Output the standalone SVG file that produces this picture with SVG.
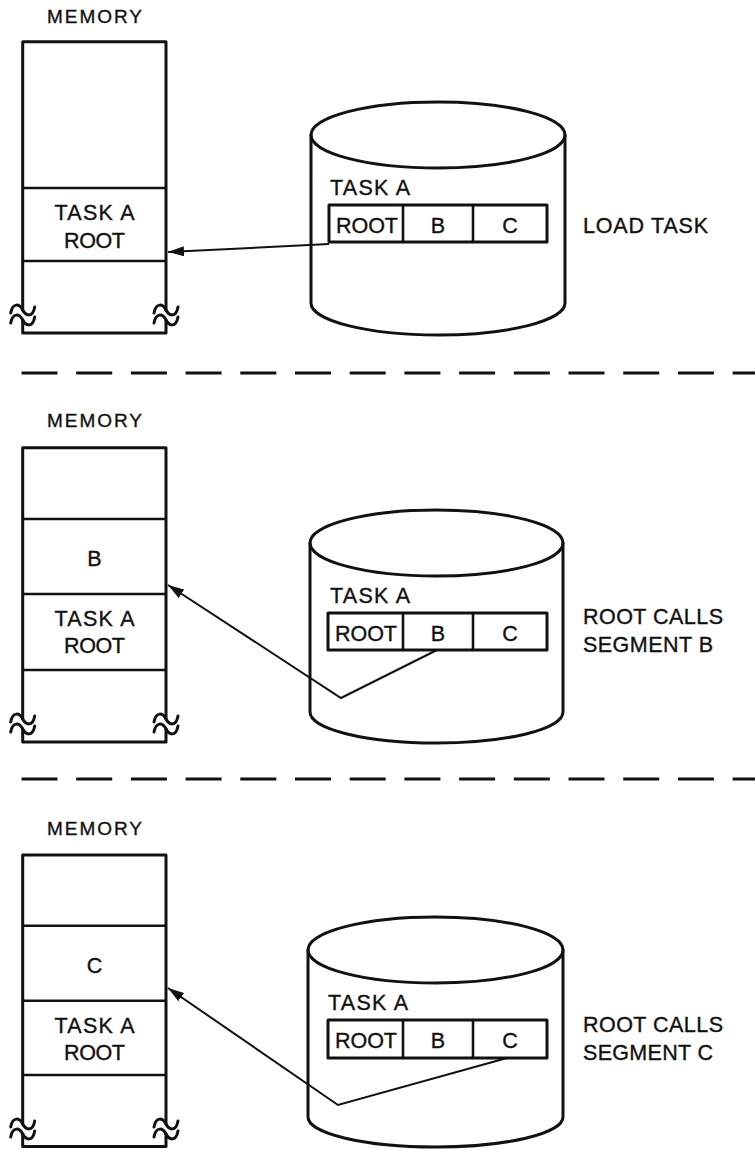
<svg xmlns="http://www.w3.org/2000/svg" xmlns:xlink="http://www.w3.org/1999/xlink" width="755" height="1149" viewBox="0 0 755 1149">
<style>
.ln{fill:none;stroke:#111;stroke-width:3;stroke-linejoin:round;stroke-linecap:round}
.dv{fill:none;stroke:#111;stroke-width:2.6}
.cn{fill:none;stroke:#111;stroke-width:2;stroke-linejoin:miter}
.dash{fill:none;stroke:#111;stroke-width:3.2;stroke-dasharray:36 18.7}
text{font-family:"Liberation Sans",Arial,sans-serif;fill:#111;stroke:#111;stroke-width:0.35}
.t{font-size:21.5px}
.m{font-size:19px}
.c{text-anchor:middle}
</style>
<defs>
<marker id="ah" markerUnits="userSpaceOnUse" markerWidth="17" markerHeight="11" refX="16" refY="5" orient="auto">
<path d="M0,0 L16,5 L0,10 z" fill="#111"/>
</marker>
<g id="sq">
<path class="ln" d="M-12,3 C-10,-8 -3,-6 0,0 C3,6 10,8 12,-3"/>
<path class="ln" d="M-12,13 C-10,2 -3,4 0,10 C3,16 10,18 12,7"/>
</g>
</defs>

<g id="memory1">
<text class="m c" x="94.5" y="23" textLength="95" lengthAdjust="spacing">MEMORY</text>
<path class="ln" d="M22.7,310 V41.7 H166 V310 M22.7,320 V333 H166 V320"/>
<use xlink:href="#sq" x="22.7" y="310"/>
<use xlink:href="#sq" x="166" y="310"/>
<line class="dv" x1="22.7" y1="188" x2="166" y2="188"/>
<line class="dv" x1="22.7" y1="261" x2="166" y2="261"/>
<text class="t c" x="94.5" y="220" textLength="80" lengthAdjust="spacing">TASK A</text>
<text class="t c" x="94.5" y="248" textLength="61" lengthAdjust="spacing">ROOT</text>
</g>

<g id="disk1">
<ellipse class="ln" cx="438" cy="135" rx="127" ry="33"/>
<path class="ln" d="M311,135 V303 A127,32 0 0 0 565,303 V135"/>
<text class="t" x="330" y="195" textLength="80" lengthAdjust="spacing">TASK A</text>
<rect class="ln" x="329" y="205" width="218" height="37"/>
<line class="dv" x1="403" y1="205" x2="403" y2="242"/>
<line class="dv" x1="473" y1="205" x2="473" y2="242"/>
<text class="t c" x="367" y="233" textLength="62" lengthAdjust="spacing">ROOT</text>
<text class="t c" x="438" y="233">B</text>
<text class="t c" x="510" y="233">C</text>
</g>
<g id="label1">
<text class="t" x="583" y="233" textLength="125" lengthAdjust="spacing">LOAD TASK</text>
</g>

<g id="memory2">
<text class="m c" x="94.5" y="427" textLength="95" lengthAdjust="spacing">MEMORY</text>
<path class="ln" d="M22.7,719 V447.7 H166 V719 M22.7,729 V742 H166 V729"/>
<use xlink:href="#sq" x="22.7" y="719"/>
<use xlink:href="#sq" x="166" y="719"/>
<line class="dv" x1="22.7" y1="519" x2="166" y2="519"/>
<line class="dv" x1="22.7" y1="594" x2="166" y2="594"/>
<line class="dv" x1="22.7" y1="670" x2="166" y2="670"/>
<text class="t c" x="94.5" y="566">B</text>
<text class="t c" x="94.5" y="626" textLength="80" lengthAdjust="spacing">TASK A</text>
<text class="t c" x="94.5" y="653" textLength="61" lengthAdjust="spacing">ROOT</text>
</g>

<g id="disk2">
<ellipse class="ln" cx="436.5" cy="543" rx="126.5" ry="33"/>
<path class="ln" d="M310,543 V712 A126.5,31 0 0 0 563,712 V543"/>
<text class="t" x="330" y="603" textLength="80" lengthAdjust="spacing">TASK A</text>
<rect class="ln" x="328" y="613" width="219" height="37"/>
<line class="dv" x1="403" y1="613" x2="403" y2="650"/>
<line class="dv" x1="473" y1="613" x2="473" y2="650"/>
<text class="t c" x="366" y="641" textLength="62" lengthAdjust="spacing">ROOT</text>
<text class="t c" x="438" y="641">B</text>
<text class="t c" x="510" y="641">C</text>
</g>
<g id="label2">
<text class="t" x="583" y="624" textLength="140" lengthAdjust="spacing">ROOT CALLS</text>
<text class="t" x="583" y="652" textLength="130" lengthAdjust="spacing">SEGMENT B</text>
</g>

<g id="memory3">
<text class="m c" x="94.5" y="835" textLength="95" lengthAdjust="spacing">MEMORY</text>
<path class="ln" d="M22.7,1124 V855 H166 V1124 M22.7,1134 V1146.5 H166 V1134"/>
<use xlink:href="#sq" x="22.7" y="1124"/>
<use xlink:href="#sq" x="166" y="1124"/>
<line class="dv" x1="22.7" y1="925.7" x2="166" y2="925.7"/>
<line class="dv" x1="22.7" y1="1000.7" x2="166" y2="1000.7"/>
<line class="dv" x1="22.7" y1="1075" x2="166" y2="1075"/>
<text class="t c" x="94.5" y="973">C</text>
<text class="t c" x="94.5" y="1033" textLength="80" lengthAdjust="spacing">TASK A</text>
<text class="t c" x="94.5" y="1060" textLength="61" lengthAdjust="spacing">ROOT</text>
</g>

<g id="disk3">
<ellipse class="ln" cx="435.5" cy="950" rx="127.5" ry="33"/>
<path class="ln" d="M308,950 V1117 A127.5,30 0 0 0 563,1117 V950"/>
<text class="t" x="328" y="1010" textLength="80" lengthAdjust="spacing">TASK A</text>
<rect class="ln" x="328" y="1020" width="219" height="38"/>
<line class="dv" x1="403" y1="1020" x2="403" y2="1058"/>
<line class="dv" x1="473" y1="1020" x2="473" y2="1058"/>
<text class="t c" x="366" y="1048" textLength="62" lengthAdjust="spacing">ROOT</text>
<text class="t c" x="438" y="1048">B</text>
<text class="t c" x="510" y="1048">C</text>
</g>
<g id="label3">
<text class="t" x="583" y="1032" textLength="140" lengthAdjust="spacing">ROOT CALLS</text>
<text class="t" x="583" y="1060" textLength="130" lengthAdjust="spacing">SEGMENT C</text>
</g>

<g id="separators">
<line class="dash" x1="21.5" y1="373" x2="755" y2="373"/>
<line class="dash" x1="21.5" y1="779" x2="755" y2="779"/>
</g>

<g id="connectors">
<polyline class="cn" points="329,244 168,252" marker-end="url(#ah)"/>
<polyline class="cn" points="437,650 341,698 168,585" marker-end="url(#ah)"/>
<polyline class="cn" points="507,1058 338,1105 168,988" marker-end="url(#ah)"/>
</g>
</svg>
